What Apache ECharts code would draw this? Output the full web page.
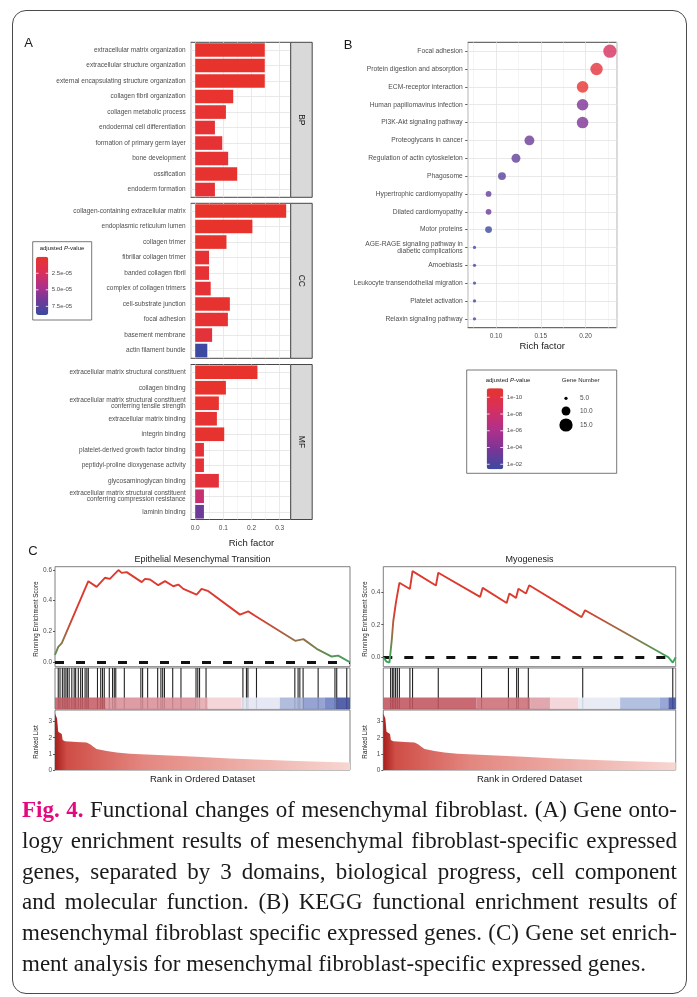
<!DOCTYPE html>
<html><head><meta charset="utf-8">
<script src="https://cdn.jsdelivr.net/npm/echarts@6/dist/echarts.min.js"></script>
<style>
html,body{margin:0;padding:0;background:#fff;}
#wrap{position:relative;width:697px;height:997px;overflow:hidden;background:#fff;}
#frame{position:absolute;left:12px;top:10px;width:675px;height:984px;border:1.3px solid #4a4a4a;border-radius:14px;box-sizing:border-box;}
#chart{position:absolute;left:0;top:0;width:697px;height:997px;}
#cap{position:absolute;left:22px;top:795px;width:655px;font-family:'Liberation Serif','Times New Roman',serif;font-size:23px;color:#1a1a1a;}
#cap .ln{height:30.8px;line-height:30.8px;white-space:nowrap;}
#cap .ln span.t{display:inline-block;white-space:nowrap;}
.fig{color:#e4087f;font-weight:bold;}
</style></head>
<body>
<div id="wrap">
<div id="frame"></div>
<div id="chart"></div>
<div id="cap">
<div class="ln"><span class="t"><span class="fig">Fig. 4.</span> Functional changes of mesenchymal fibroblast. (A) Gene onto-</span></div>
<div class="ln"><span class="t">logy enrichment results of mesenchymal fibroblast-specific expressed</span></div>
<div class="ln"><span class="t">genes, separated by 3 domains, biological progress, cell component</span></div>
<div class="ln"><span class="t">and molecular function. (B) KEGG functional enrichment results of</span></div>
<div class="ln"><span class="t">mesenchymal fibroblast specific expressed genes. (C) Gene set enrich-</span></div>
<div class="ln"><span class="t">ment analysis for mesenchymal fibroblast-specific expressed genes.</span></div>
</div>
</div>
<script>
// ================= DATA =================
// Panel A : GO enrichment (Rich factor, adjusted P-value)
const bpTerms = ['extracellular matrix organization','extracellular structure organization','external encapsulating structure organization','collagen fibril organization','collagen metabolic process','endodermal cell differentiation','formation of primary germ layer','bone development','ossification','endoderm formation'];
const bpRich = [0.247,0.247,0.247,0.135,0.109,0.070,0.096,0.117,0.149,0.070];
const bpPadj = [1.2e-9,1.2e-9,1.2e-9,3.1e-7,2.2e-6,4.5e-6,3.6e-6,2.8e-6,1.5e-6,4.5e-6];

const ccTerms = ['collagen-containing extracellular matrix','endoplasmic reticulum lumen','collagen trimer','fibrillar collagen trimer','banded collagen fibril','complex of collagen trimers','cell-substrate junction','focal adhesion','basement membrane','actin filament bundle'];
const ccRich = [0.323,0.203,0.111,0.049,0.049,0.055,0.123,0.116,0.060,0.043];
const ccPadj = [2e-12,1e-9,3e-8,4e-6,4e-6,5e-6,1.5e-6,3e-6,7e-6,8.7e-5];

const mfTerms = ['extracellular matrix structural constituent','collagen binding','extracellular matrix structural constituent\nconferring tensile strength','extracellular matrix binding','integrin binding','platelet-derived growth factor binding','peptidyl-proline dioxygenase activity','glycosaminoglycan binding','extracellular matrix structural constituent\nconferring compression resistance','laminin binding'];
const mfRich = [0.221,0.109,0.084,0.077,0.103,0.031,0.031,0.084,0.031,0.031];
const mfPadj = [1e-11,2e-7,4e-7,2e-6,1e-6,6e-6,6e-6,8e-6,3.3e-5,6.7e-5];

const goStrips = ['BP','CC','MF'];
const goPTicks = [2.5e-5,5.0e-5,7.5e-5];
const goPTickLabels = ['2.5e-05','5.0e-05','7.5e-05'];

// Panel B : KEGG enrichment
const keggTerms = ['Focal adhesion','Protein digestion and absorption','ECM-receptor interaction','Human papillomavirus infection','PI3K-Akt signaling pathway','Proteoglycans in cancer','Regulation of actin cytoskeleton','Phagosome','Hypertrophic cardiomyopathy','Dilated cardiomyopathy','Motor proteins','AGE-RAGE signaling pathway in\ndiabetic complications','Amoebiasis','Leukocyte transendothelial migration','Platelet activation','Relaxin signaling pathway'];
const keggRich = [0.2272,0.2123,0.1967,0.1967,0.1967,0.1373,0.1223,0.1067,0.0917,0.0917,0.0917,0.0760,0.0760,0.0760,0.0760,0.0760];
const keggCount = [15,14,13,13,13,11,10,9,7,7,8,5,5,5,5,5];
const keggPadj = [2e-9,3e-11,1.5e-11,1.2e-4,1.2e-4,5e-4,1.5e-3,3e-3,1.5e-3,6e-4,3e-2,3e-2,3e-2,3e-2,3e-2,3e-2];
const keggPTicks = [1e-10,1e-8,1e-6,1e-4,1e-2];
const keggPTickLabels = ['1e-10','1e-08','1e-06','1e-04','1e-02'];
const geneNumberTicks = [5,10,15];
const geneNumberLabels = ['5.0','10.0','15.0'];

// Panel C : GSEA (x = position in ranked list, %)
const emtX  = [0,1.1,2.3,11.3,14.1,16.9,18.6,21.5,22.6,24.3,29.4,30.5,32.2,35.0,37.3,40.1,41.8,43.5,48.0,49.7,52.0,62.7,65.5,67.8,81.4,84.2,88.7,93.8,96.0,100];
const emtES = [0.048,0.10,0.124,0.526,0.489,0.548,0.541,0.598,0.58,0.585,0.52,0.541,0.537,0.50,0.526,0.493,0.504,0.476,0.439,0.476,0.461,0.309,0.33,0.302,0.139,0.15,0.087,0.037,0.043,0.0];
const emtHits = [1.1,1.7,2.5,3.1,3.7,4.2,4.8,5.7,6.5,7.0,7.9,8.7,9.3,10.2,10.8,11.3,14.4,15.5,16.1,16.7,18.4,19.5,20.1,20.6,23.5,29.1,29.7,31.4,34.8,35.9,36.5,37.1,39.9,42.7,47.8,48.4,49.0,51.2,63.7,64.9,65.4,68.3,81.3,82.4,83.0,84.1,89.2,94.9,95.5,98.9];
const emtBandEdges = [0,17.2,47.8,51.8,63.2,76.2,84.1,91.5,95.5,100];

const myoX  = [0,1.1,2.1,2.9,3.4,3.8,4.3,4.9,5.5,9.1,10.0,18.0,18.8,33.1,34.0,42.2,43.1,45.4,46.2,48.8,49.9,67.8,69.0,97.5,99.0,100];
const myoES = [0,-0.027,-0.033,0.107,0.22,0.22,0.334,0.338,0.458,0.42,0.53,0.441,0.52,0.371,0.427,0.334,0.392,0.365,0.421,0.392,0.443,0.247,0.289,0.0,-0.033,0.0];
const myoHits = [2.5,3.1,3.6,4.2,4.8,5.5,9.1,10.0,18.8,33.6,42.8,45.6,46.2,49.6,68.2,99.0];
const myoBandEdges = [0,31.9,50.2,57.0,66.7,81.0,94.6,97.5,100];

const rankX = [0,0.3,0.7,1.0,1.1,2.3,2.6,3.4,7.3,10.7,11.9,13.0,14.1,17.5,20.9,25.4,36.7,48.0,59.3,70.6,81.9,93.2,100];
const rankV = [3.5,3.5,3.2,3.2,2.37,2.23,1.86,1.79,1.73,1.71,1.6,1.44,1.3,1.18,1.09,1.01,0.91,0.82,0.72,0.64,0.56,0.49,0.47];

const gseaTitles = ['Epithelial Mesenchymal Transition','Myogenesis'];

// ================= STYLE / LAYOUT =================
const FONT = "'Liberation Sans', Arial, Helvetica, sans-serif";
const TXT = '#4d4d4d';
const DARK = '#1a1a1a';
const goColors = ['#e8332d','#dc2f55','#b2308a','#6f3a98','#3b4aa0'];
const keggColors = ['#e8332d','#d6305e','#b2308a','#7b3596','#3b4aa0'];
const esColors = ['#3ca35a','#9b6c46','#dc3a2e'];
const emtBandColors = ['#c65d67','#da9098','#e4a8ae','#f2cfd3','#e3e6f2','#a7b4d9','#8797cc','#6a7cbf','#3f4d9f'];
const myoBandColors = ['#c25560','#cd6d76','#dc9ca3','#f3d2d6','#e6e9f4','#a9b7dc','#8a9bd0','#3f4d9f'];

const LA = {left:190.7, w:100, tops:[42.3,203.3,364.5], h:155, stripW:21.5};
const LB = {left:467.7, top:42.3, w:149, h:285.4};
const LC = {top:566.7, topH:100, midTop:668, midH:41, botTop:710, botH:60,
            lefts:[55,383.3], widths:[295,292.4]};
const goPRange = [0, 8.8e-5];
const goBar = {x:36, y:256.7, w:12.3, h:58.3};
const keggLRange = [-11.07, -1.4];
const keggBar = {x:486.7, y:388.3, w:16.6, h:81};
const geneSize = n => 6.1*Math.sqrt(n) - 10.4;

const GB = {show:true, borderColor:'#333', borderWidth:0.9, backgroundColor:'rgba(0,0,0,0)', containLabel:false, outerBoundsMode:'none'};
const GC = {show:true, borderColor:'#707070', borderWidth:0.9, backgroundColor:'rgba(0,0,0,0)', containLabel:false, outerBoundsMode:'none'};

const grids = [], xAxes = [], yAxes = [], series = [], graphics = [];

function txt(text, x, y, size, o) {
  o = o || {};
  return {type:'text', x:x, y:y, rotation:o.rot||0, silent:true, z:100,
    style:{text:text, fontSize:size, fontFamily:FONT, fill:o.fill||DARK,
      align:o.align||'center', verticalAlign:'middle', fontStyle:o.italic?'italic':'normal', rich:o.rich}};
}

// ---------- Panel A ----------
const goSets = [[bpTerms,bpRich,bpPadj],[ccTerms,ccRich,ccPadj],[mfTerms,mfRich,mfPadj]];
goSets.forEach((set, i) => {
  const [terms, rich, padj] = set;
  grids.push(Object.assign({}, GB, {left:LA.left, top:LA.tops[i], width:LA.w, height:LA.h}));
  xAxes.push({type:'value', gridIndex:i, min:-0.016, max:0.339, splitNumber:4,
    axisLine:{show:false}, axisTick:{show:false},
    axisLabel:{show:i===2, fontSize:6.5, color:TXT, fontFamily:FONT, margin:5, showMinLabel:false, showMaxLabel:false, formatter:v=>v.toFixed(1)},
    splitLine:{show:true, lineStyle:{color:'#e6e6e6', width:0.9}},
    minorTick:{show:false, splitNumber:2},
    minorSplitLine:{show:true, lineStyle:{color:'#efefef', width:0.6}}});
  yAxes.push({type:'category', gridIndex:i, data:terms, inverse:true,
    axisLine:{show:false}, axisTick:{show:false}, splitLine:{show:false},
    axisLabel:{interval:0, fontSize:6.5, color:TXT, fontFamily:FONT, margin:5, lineHeight:6.5}});
  series.push({type:'bar', xAxisIndex:i, yAxisIndex:i, z:10, barWidth:'88%',
    data:rich.map((v,k)=>[v,k,padj[k]]), encode:{x:0,y:1},
    itemStyle:{borderWidth:0},
    markLine:{silent:true, symbol:['none','none'], label:{show:false}, z:1,
      lineStyle:{color:'#e6e6e6', width:0.9, type:'solid'},
      data:terms.map((t,k)=>({yAxis:k}))}});
  const top = LA.tops[i];
  graphics.push({type:'rect', silent:true, z:50, shape:{x:LA.left+LA.w, y:top, width:LA.stripW, height:LA.h},
    style:{fill:'#d9d9d9', stroke:'#333', lineWidth:0.9}});
  graphics.push(txt(goStrips[i], LA.left+LA.w+LA.stripW/2, top+LA.h/2, 8.5, {rot:-Math.PI/2}));
});
graphics.push(txt('Rich factor', LA.left+(LA.w+LA.stripW)/2, 543.3, 9.5));
graphics.push(txt('A', 28.5, 43.5, 13));
// GO legend
graphics.push({type:'rect', silent:true, z:40, shape:{x:32.7, y:241.7, width:59, height:78.3}, style:{fill:'#fff', stroke:'#555', lineWidth:0.8}});
graphics.push(txt('{n|adjusted }{i|P}{n|-value}', 62, 248.3, 6, {rich:{n:{fontSize:6,fontFamily:FONT,fill:DARK}, i:{fontSize:6,fontFamily:FONT,fill:DARK,fontStyle:'italic'}}}));
goPTicks.forEach((v,k) => {
  const y = goBar.y + (v-goPRange[0])/(goPRange[1]-goPRange[0])*goBar.h;
  graphics.push(txt(goPTickLabels[k], goBar.x+goBar.w+3.5, y, 6, {align:'left', fill:TXT}));
  graphics.push({type:'line', silent:true, z:120, shape:{x1:goBar.x, y1:y, x2:goBar.x+2.5, y2:y}, style:{stroke:'#fff', lineWidth:0.8}});
  graphics.push({type:'line', silent:true, z:120, shape:{x1:goBar.x+goBar.w-2.5, y1:y, x2:goBar.x+goBar.w, y2:y}, style:{stroke:'#fff', lineWidth:0.8}});
});

// ---------- Panel B ----------
grids.push(Object.assign({}, GB, {left:LB.left, top:LB.top, width:LB.w, height:LB.h}));
xAxes.push({type:'value', gridIndex:3, min:0.0684, max:0.2348, splitNumber:3,
  axisLine:{show:false}, axisTick:{show:false},
  axisLabel:{fontSize:6.5, color:TXT, fontFamily:FONT, margin:5, showMinLabel:false, showMaxLabel:false, formatter:v=>v.toFixed(2)},
  splitLine:{show:true, lineStyle:{color:'#e6e6e6', width:0.9}},
  minorTick:{show:false, splitNumber:2},
  minorSplitLine:{show:true, lineStyle:{color:'#efefef', width:0.6}}});
yAxes.push({type:'category', gridIndex:3, data:keggTerms, inverse:true,
  axisLine:{show:false}, splitLine:{show:false},
  axisTick:{show:true, alignWithLabel:true, length:2.5, lineStyle:{color:'#333', width:0.8}},
  axisLabel:{interval:0, fontSize:6.7, color:TXT, fontFamily:FONT, margin:5, lineHeight:6.5}});
series.push({type:'scatter', xAxisIndex:3, yAxisIndex:3, z:10,
  data:keggRich.map((v,k)=>[v,k,keggCount[k],Math.log10(keggPadj[k])]), encode:{x:0,y:1},
  symbolSize:val=>geneSize(val[2]),
  markLine:{silent:true, symbol:['none','none'], label:{show:false}, z:1,
    lineStyle:{color:'#e6e6e6', width:0.9, type:'solid'},
    data:keggTerms.map((t,k)=>({yAxis:k}))}});
graphics.push(txt('Rich factor', LB.left+LB.w/2, 346.7, 9.5));
graphics.push(txt('B', 348, 45, 13));
// KEGG legend
graphics.push({type:'rect', silent:true, z:40, shape:{x:466.7, y:370, width:150, height:103.3}, style:{fill:'#fff', stroke:'#555', lineWidth:0.8}});
graphics.push(txt('{n|adjusted }{i|P}{n|-value}', 508, 380.7, 6, {rich:{n:{fontSize:6,fontFamily:FONT,fill:DARK}, i:{fontSize:6,fontFamily:FONT,fill:DARK,fontStyle:'italic'}}}));
keggPTicks.forEach((v,k) => {
  const y = keggBar.y + (Math.log10(v)-keggLRange[0])/(keggLRange[1]-keggLRange[0])*keggBar.h;
  graphics.push(txt(keggPTickLabels[k], keggBar.x+keggBar.w+3.5, y, 6, {align:'left', fill:TXT}));
  graphics.push({type:'line', silent:true, z:120, shape:{x1:keggBar.x, y1:y, x2:keggBar.x+3, y2:y}, style:{stroke:'#fff', lineWidth:0.8}});
  graphics.push({type:'line', silent:true, z:120, shape:{x1:keggBar.x+keggBar.w-3, y1:y, x2:keggBar.x+keggBar.w, y2:y}, style:{stroke:'#fff', lineWidth:0.8}});
});
graphics.push(txt('Gene Number', 580.7, 380.7, 6));
geneNumberTicks.forEach((n,k) => {
  const y = [398.3,411,425][k];
  graphics.push({type:'circle', silent:true, z:60, shape:{cx:566, cy:y, r:geneSize(n)/2}, style:{fill:'#000'}});
  graphics.push(txt(geneNumberLabels[k], 580, y, 6.5, {align:'left', fill:TXT}));
});

// ---------- Panel C ----------
const gsea = [
  {x:emtX, es:emtES, hits:emtHits, edges:emtBandEdges, colors:emtBandColors, yMin:-0.029, yMax:0.62},
  {x:myoX, es:myoES, hits:myoHits, edges:myoBandEdges, colors:myoBandColors, yMin:-0.058, yMax:0.557}
];
const esSeriesIdx = [];
gsea.forEach((g, j) => {
  const left = LC.lefts[j], w = LC.widths[j];
  const gi = grids.length;
  grids.push(Object.assign({}, GC, {left:left, top:LC.top, width:w, height:LC.topH}));
  grids.push(Object.assign({}, GC, {left:left, top:LC.midTop, width:w, height:LC.midH}));
  grids.push(Object.assign({}, GC, {left:left, top:LC.botTop, width:w, height:LC.botH}));
  for (let k=0;k<3;k++) xAxes.push({type:'value', gridIndex:gi+k, min:0, max:100, show:false});
  yAxes.push({type:'value', gridIndex:gi, min:g.yMin, max:g.yMax, splitNumber:3,
    axisLine:{show:false}, splitLine:{show:false},
    axisTick:{show:true, length:2, lineStyle:{color:'#333', width:0.8}},
    axisLabel:{fontSize:6.5, color:TXT, fontFamily:FONT, margin:3, showMinLabel:false, showMaxLabel:false, formatter:v=>v.toFixed(1)}});
  yAxes.push({type:'value', gridIndex:gi+1, min:0, max:1, show:false});
  yAxes.push({type:'value', gridIndex:gi+2, min:0, max:3.72, interval:1,
    axisLine:{show:false}, splitLine:{show:false},
    axisTick:{show:true, length:2, lineStyle:{color:'#333', width:0.8}},
    axisLabel:{fontSize:6.5, color:TXT, fontFamily:FONT, margin:3, showMaxLabel:false}});
  esSeriesIdx.push(series.length);
  series.push({type:'line', xAxisIndex:gi, yAxisIndex:gi, symbol:'none', z:10,
    data:g.x.map((x,k)=>[x,g.es[k]]), lineStyle:{width:1.9},
    markLine:{silent:true, symbol:['none','none'], label:{show:false}, z:5,
      lineStyle:{color:'#111', width:2.8, type:[9,12]}, data:[{yAxis:0}]}});
  series.push({type:'custom', xAxisIndex:gi+1, yAxisIndex:gi+1, z:5,
    data:g.hits.map(h=>[h]), encode:{x:0},
    renderItem:(p, api) => {
      const a = api.coord([api.value(0), 0]), b = api.coord([api.value(0), 1]);
      return {type:'line', shape:{x1:a[0], y1:a[1], x2:b[0], y2:b[1]}, style:{stroke:'#222', lineWidth:1.1}};
    }});
  series.push({type:'custom', xAxisIndex:gi+1, yAxisIndex:gi+1, z:8,
    data:g.edges.slice(0,-1).map((e,k)=>[e, g.edges[k+1], k]), encode:{x:[0,1]},
    renderItem:(p, api) => {
      const a = api.coord([api.value(0), 0.28]), b = api.coord([api.value(1), 0]);
      return {type:'rect', shape:{x:a[0], y:a[1], width:b[0]-a[0], height:b[1]-a[1]},
        style:{fill:g.colors[api.value(2)], opacity:0.88}};
    }});
  series.push({type:'line', xAxisIndex:gi+2, yAxisIndex:gi+2, symbol:'none', z:5,
    data:rankX.map((x,k)=>[x,rankV[k]]), lineStyle:{width:0, opacity:0},
    areaStyle:{opacity:1, color:{type:'linear', x:0, y:0, x2:1, y2:0,
      colorStops:[{offset:0,color:'#a81e1c'},{offset:0.04,color:'#cf4d46'},{offset:0.3,color:'#e38780'},{offset:1,color:'#f8d6d1'}]}}});
  const cx = left + w/2;
  graphics.push(txt(gseaTitles[j], cx, 559.3, 9));
  graphics.push(txt('Rank in Ordered Dataset', cx, 779.3, 9.5));
  graphics.push(txt('Running Enrichment Score', left-18.3, 619, 6.3, {rot:Math.PI/2}));
  graphics.push(txt('Ranked List', left-18.3, 742, 6.3, {rot:Math.PI/2}));
});
graphics.push(txt('C', 33, 551, 13));

const option = {
  animation:false,
  backgroundColor:'rgba(0,0,0,0)',
  grid:grids, xAxis:xAxes, yAxis:yAxes, series:series, graphic:graphics,
  visualMap:[
    {type:'continuous', seriesIndex:[0,1,2], dimension:2, min:goPRange[0], max:goPRange[1],
      inRange:{color:goColors}, inverse:true, calculable:false, show:true, hoverLink:false,
      left:goBar.x, top:goBar.y, itemWidth:goBar.w, itemHeight:goBar.h, padding:0, text:null, z:45},
    {type:'continuous', seriesIndex:3, dimension:3, min:keggLRange[0], max:keggLRange[1],
      inRange:{color:keggColors}, inverse:true, calculable:false, show:true, hoverLink:false,
      left:keggBar.x, top:keggBar.y, itemWidth:keggBar.w, itemHeight:keggBar.h, padding:0, text:null, z:45},
    {type:'continuous', seriesIndex:esSeriesIdx, dimension:1, min:0, max:0.3, show:false,
      inRange:{color:esColors}}
  ]
};
const chart = echarts.init(document.getElementById('chart'), null, {renderer:'canvas'});
chart.setOption(option);

// caption justification
const lines = document.querySelectorAll('#cap .ln .t');
lines.forEach((s, i) => {
  const w = s.getBoundingClientRect().width;
  if (i === lines.length - 1) {
    if (w > 655) s.style.letterSpacing = ((655 - w) / s.textContent.length) + 'px';
    return;
  }
  const spaces = (s.textContent.match(/ /g) || []).length;
  if (w < 655) s.style.wordSpacing = ((655 - w) / spaces) + 'px';
  else s.style.letterSpacing = ((655 - w) / s.textContent.length) + 'px';
});
</script>
</body></html>
